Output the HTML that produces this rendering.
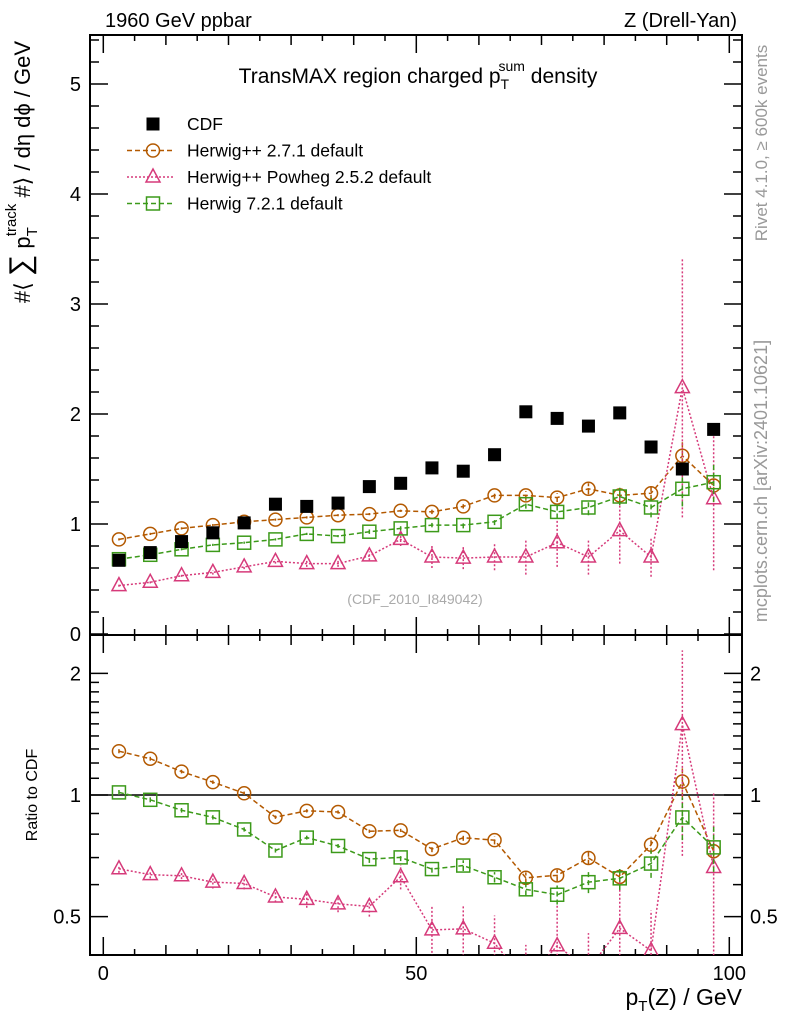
<!DOCTYPE html>
<html><head><meta charset="utf-8"><style>
html,body{margin:0;padding:0;background:#fff;}
svg{display:block;font-family:"Liberation Sans",sans-serif;}
</style></head><body>
<svg id="chart" width="786" height="1024" viewBox="0 0 786 1024" xmlns="http://www.w3.org/2000/svg">
<text x="105" y="27" font-size="20">1960 GeV ppbar</text>
<text x="737" y="27" font-size="20" text-anchor="end">Z (Drell-Yan)</text>
<text x="418" y="83" font-size="21" text-anchor="middle">TransMAX region charged p<tspan font-size="14" dy="6">T</tspan><tspan font-size="14" dx="-9" dy="-18">sum</tspan><tspan dy="12"> density</tspan></text>
<text transform="translate(767,143) rotate(-90)" font-size="17" fill="#999" text-anchor="middle">Rivet 4.1.0, ≥ 600k events</text>
<text transform="translate(767,481) rotate(-90)" font-size="18" fill="#999" text-anchor="middle">mcplots.cern.ch [arXiv:2401.10621]</text>
<text transform="translate(30,172) rotate(-90)" font-size="22" text-anchor="middle">#⟨ <tspan font-size="30">∑</tspan> p<tspan font-size="15" dy="7">T</tspan><tspan font-size="15" dx="-9" dy="-21">track</tspan><tspan dy="14"> #⟩ / dη dϕ / GeV</tspan></text>
<text transform="translate(37,795) rotate(-90)" font-size="16" text-anchor="middle">Ratio to CDF</text>
<text x="742" y="1005" font-size="23" text-anchor="end">p<tspan font-size="15" dy="6">T</tspan><tspan dy="-6">(Z) / GeV</tspan></text>
<text x="415" y="604" font-size="14" fill="#aaa" text-anchor="middle">(CDF_2010_I849042)</text>
<g id="axes"></g>
<g id="marks"></g>
<g id="legend"></g>
</svg>
<script>
const xCenters=[2.5,7.5,12.5,17.5,22.5,27.5,32.5,37.5,42.5,47.5,52.5,57.5,62.5,67.5,72.5,77.5,82.5,87.5,92.5,97.5];
const cdfValues=[0.67,0.74,0.84,0.92,1.01,1.18,1.16,1.19,1.34,1.37,1.51,1.48,1.63,2.02,1.96,1.89,2.01,1.70,1.50,1.86];
const hppValues=[0.86,0.91,0.96,0.99,1.02,1.04,1.06,1.08,1.09,1.12,1.11,1.16,1.26,1.26,1.24,1.32,1.26,1.28,1.62,1.35];
const hppErr=[0.01,0.01,0.01,0.01,0.01,0.01,0.01,0.01,0.01,0.01,0.02,0.02,0.03,0.04,0.04,0.05,0.05,0.06,0.14,0.06];
const powValues=[0.44,0.47,0.53,0.56,0.61,0.66,0.64,0.64,0.71,0.86,0.70,0.69,0.70,0.70,0.83,0.70,0.94,0.70,2.24,1.23];
const powErr=[0.01,0.01,0.01,0.02,0.02,0.02,0.03,0.03,0.04,0.06,0.10,0.10,0.12,0.16,0.22,0.16,0.30,0.18,1.18,0.65];
const h7Values=[0.68,0.72,0.77,0.81,0.83,0.86,0.91,0.89,0.93,0.96,0.99,0.99,1.02,1.18,1.11,1.15,1.25,1.15,1.32,1.38];
const h7Err=[0.01,0.01,0.01,0.01,0.01,0.01,0.01,0.01,0.02,0.02,0.02,0.03,0.03,0.04,0.06,0.07,0.08,0.09,0.16,0.18];
const mainTicks=[0,1,2,3,4,5];
const ratioTicks=[0.5,1,2];
const xTicks=[0,50,100];

const NS="http://www.w3.org/2000/svg";
const L=90,R=742,T=35,M=635,B=955;
const X=v=>103.3+v*6.26;
const Y=v=>634-v*110;
const RY=v=>795-Math.log10(v)*404;
const axes=document.getElementById('axes'),marks=document.getElementById('marks'),leg=document.getElementById('legend');
function el(tag,attrs,parent,txt){const e=document.createElementNS(NS,tag);for(const k in attrs)e.setAttribute(k,attrs[k]);if(txt!==undefined)e.textContent=txt;parent.appendChild(e);return e;}
let f=el('rect',{x:L,y:T,width:R-L,height:M-T,fill:'none',stroke:'#000','stroke-width':2},axes);


f=el('rect',{x:L,y:M,width:R-L,height:B-M,fill:'none',stroke:'#000','stroke-width':2},axes);


for(let v=0;v<=100;v+=5){
  const len=v%50===0?18:(v%10===0?10:6);
  const x=X(v);
  [[T,1],[M,-1],[M,1],[B,-1]].forEach(([y0,d])=>{el('line',{x1:x,x2:x,y1:y0,y2:y0+d*len,stroke:'#000','stroke-width':1.5},axes);});
}
xTicks.forEach(v=>{const t=el('text',{x:X(v),y:980,'font-size':20,'text-anchor':'middle'},axes,String(v));

});
for(let i=0;i<=27;i++){const v=i*0.2;const y=Y(v);if(y<T)break;const len=i%5===0?18:9;
  el('line',{x1:L,x2:L+len,y1:y,y2:y,stroke:'#000','stroke-width':1.5},axes);
  el('line',{x1:R,x2:R-len,y1:y,y2:y,stroke:'#000','stroke-width':1.5},axes);}
mainTicks.forEach(v=>{const t=el('text',{x:81,y:Y(v)+7,'font-size':20,'text-anchor':'end'},axes,String(v));

});
[0.4,0.5,0.6,0.7,0.8,0.9,1,1.1,1.2,1.3,1.4,1.5,1.6,1.7,1.8,1.9,2].forEach(v=>{const y=RY(v);if(y>B||y<M)return;
  const len=(v===0.5||v===1||v===2)?18:9;
  el('line',{x1:L,x2:L+len,y1:y,y2:y,stroke:'#000','stroke-width':1.5},axes);
  el('line',{x1:R,x2:R-len,y1:y,y2:y,stroke:'#000','stroke-width':1.5},axes);});
ratioTicks.forEach(v=>{
  let t=el('text',{x:81,y:RY(v)+7,'font-size':20,'text-anchor':'end'},axes,String(v));
  
  
  t=el('text',{x:750,y:RY(v)+7,'font-size':20},axes,String(v));
  
  });
el('line',{x1:L,x2:R,y1:RY(1),y2:RY(1),stroke:'#000','stroke-width':1.5},axes);
const defs=el('defs',{},marks);
const c1=el('clipPath',{id:'cm'},defs);el('rect',{x:L,y:T,width:R-L,height:M-T},c1);
const c2=el('clipPath',{id:'cr'},defs);el('rect',{x:L,y:M,width:R-L,height:B-M},c2);
function marker(g,type,x,y,color){
  if(type==='sq')el('rect',{x:x-6.5,y:y-6.5,width:13,height:13,fill:'#000'},g);
  else if(type==='circ')el('circle',{cx:x,cy:y,r:6.5,fill:'none',stroke:color,'stroke-width':1.5},g);
  else if(type==='tri')el('path',{d:`M${x} ${y-8}L${x+7} ${y+5}L${x-7} ${y+5}Z`,fill:'none',stroke:color,'stroke-width':1.5},g);
  else el('rect',{x:x-6.5,y:y-6.5,width:13,height:13,fill:'none',stroke:color,'stroke-width':1.5},g);
}
const series=[
 {name:'herwigpp-271',vals:hppValues,err:hppErr,color:'#b35900',type:'circ',dash:'5,3'},
 {name:'herwigpp-powheg',vals:powValues,err:powErr,color:'#d63a7a',type:'tri',dash:'2,2'},
 {name:'herwig-721',vals:h7Values,err:h7Err,color:'#3c9a1a',type:'box',dash:'5,3'}];
function draw(panel,yf,clip,valsFn,errFn){
  series.forEach(s=>{
    const g=el('g',{'clip-path':`url(#${clip})`},marks);
    
    
    const vals=xCenters.map((x,i)=>valsFn(s,i));
    el('polyline',{points:xCenters.map((x,i)=>X(x)+','+yf(vals[i])).join(' '),fill:'none',stroke:s.color,'stroke-width':1.5,'stroke-dasharray':s.dash},g);
    xCenters.forEach((x,i)=>{const [lo,hi]=errFn(s,i);
      el('line',{x1:X(x),x2:X(x),y1:yf(lo),y2:yf(hi),stroke:s.color,'stroke-width':1.5,'stroke-dasharray':s.dash},g);
      marker(g,s.type,X(x),yf(vals[i]),s.color);});
  });
}
draw('main',Y,'cm',(s,i)=>s.vals[i],(s,i)=>[Math.max(0.01,s.vals[i]-s.err[i]),s.vals[i]+s.err[i]]);
const gc=el('g',{'clip-path':'url(#cm)'},marks);


xCenters.forEach((x,i)=>marker(gc,'sq',X(x),Y(cdfValues[i])));
draw('ratio',RY,'cr',(s,i)=>s.vals[i]/cdfValues[i],(s,i)=>[Math.max(0.05,(s.vals[i]-s.err[i])/cdfValues[i]),(s.vals[i]+s.err[i])/cdfValues[i]]);
const items=[['CDF','sq','#000',null],['Herwig++ 2.7.1 default','circ','#b35900','5,3'],['Herwig++ Powheg 2.5.2 default','tri','#d63a7a','2,2'],['Herwig 7.2.1 default','box','#3c9a1a','5,3']];
items.forEach((it,i)=>{const y=124+i*26.5;
  const g=el('g',{},leg);
  
  
  if(it[3])el('line',{x1:127,x2:175,y1:y,y2:y,stroke:it[2],'stroke-width':1.5,'stroke-dasharray':it[3]},g);
  marker(g,it[1],153,y,it[2]);
  el('text',{x:187,y:y+6,'font-size':17.5},g,it[0]);});
</script>
</body></html>
